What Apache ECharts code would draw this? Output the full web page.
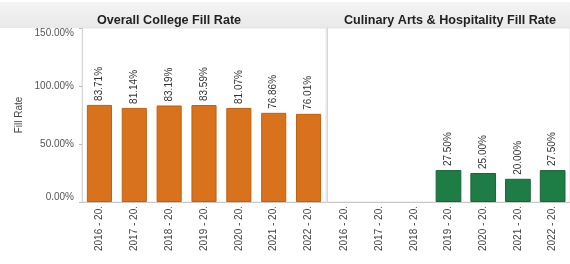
<!DOCTYPE html>
<html>
<head>
<meta charset="utf-8">
<script src="https://cdn.jsdelivr.net/npm/echarts@6/dist/echarts.min.js"></script>
<style>
  html, body { margin: 0; padding: 0; background: #fff; }
  #chart { width: 570px; height: 264px; }
</style>
</head>
<body>
<div id="chart"></div>
<script>
const years = ['2016 - 2017', '2017 - 2018', '2018 - 2019', '2019 - 2020', '2020 - 2021', '2021 - 2022', '2022 - 2023'];
const overallRate = [83.71, 81.14, 83.19, 83.59, 81.07, 76.86, 76.01];
const culinaryRate = [null, null, null, 27.5, 25.0, 20.0, 27.5];
const yTicks = [0, 50, 100, 150];

const font = 'Liberation Sans, Arial, sans-serif';
const shortLabel = (v) => v.slice(0, 9) + '.';

const chart = echarts.init(document.getElementById('chart'));

const xAxisBase = (gridIndex) => ({
  type: 'category',
  gridIndex,
  data: years,
  axisTick: { show: false },
  axisLine: { lineStyle: { color: '#c8c8c8' } },
  axisLabel: {
    rotate: 90,
    fontSize: 10,
    fontFamily: font,
    color: '#444',
    margin: 4,
    formatter: shortLabel
  }
});

const barLabel = {
  show: true,
  position: 'top',
  rotate: 90,
  align: 'left',
  verticalAlign: 'middle',
  distance: 4,
  fontSize: 10,
  fontFamily: font,
  color: '#333',
  formatter: (p) => p.value.toFixed(2) + '%'
};

chart.setOption({
  animation: false,
  graphic: [{
    type: 'rect',
    shape: { x: 0, y: 2, width: 570, height: 26 },
    style: {
      fill: new echarts.graphic.LinearGradient(0, 0, 0, 1, [
        { offset: 0, color: '#f4f4f4' },
        { offset: 1, color: '#e9e9e9' }
      ])
    },
    z: -1
  }],
  title: [
    {
      text: 'Overall College Fill Rate',
      left: 164, top: 9, textAlign: 'center',
      textStyle: { fontSize: 12.6, fontWeight: 'bold', fontFamily: font, color: '#222' }
    },
    {
      text: 'Culinary Arts & Hospitality Fill Rate',
      left: 445, top: 9, textAlign: 'center',
      textStyle: { fontSize: 12.6, fontWeight: 'bold', fontFamily: font, color: '#222' }
    }
  ],
  grid: [
    { left: 82, right: 244, top: 28, bottom: 62, show: true, borderColor: '#e2e2e2', borderWidth: 1 },
    { left: 327, right: -7, top: 28, bottom: 62, show: true, borderColor: '#e2e2e2', borderWidth: 1 }
  ],
  xAxis: [xAxisBase(0), xAxisBase(1)],
  yAxis: [
    {
      type: 'value', gridIndex: 0,
      min: yTicks[0], max: yTicks[yTicks.length - 1], interval: 50,
      name: 'Fill Rate', nameLocation: 'middle', nameGap: 58,
      nameTextStyle: { fontSize: 10, fontFamily: font, color: '#444' },
      splitLine: { show: false },
      axisLine: { show: true, lineStyle: { color: '#d6d6d6' } },
      axisTick: { show: true, length: 3, lineStyle: { color: '#bbb' } },
      axisLabel: {
        fontSize: 10, fontFamily: font, color: '#555', margin: 8,
        verticalAlignMinLabel: 'bottom',
        verticalAlignMaxLabel: 'top',
        formatter: (v) => v.toFixed(2) + '%'
      }
    },
    {
      type: 'value', gridIndex: 1,
      min: yTicks[0], max: yTicks[yTicks.length - 1], interval: 50,
      splitLine: { show: false },
      axisLine: { show: true, lineStyle: { color: '#d6d6d6' } },
      axisTick: { show: false },
      axisLabel: { show: false }
    }
  ],
  series: [
    {
      type: 'bar', xAxisIndex: 0, yAxisIndex: 0,
      data: overallRate,
      barWidth: '72%',
      itemStyle: { color: '#d9721c', borderColor: '#c2600e', borderWidth: 1 },
      label: barLabel
    },
    {
      type: 'bar', xAxisIndex: 1, yAxisIndex: 1,
      data: culinaryRate,
      barWidth: '74%',
      itemStyle: { color: '#1e7d45', borderColor: '#166536', borderWidth: 1 },
      label: barLabel
    }
  ]
});
</script>
</body>
</html>
